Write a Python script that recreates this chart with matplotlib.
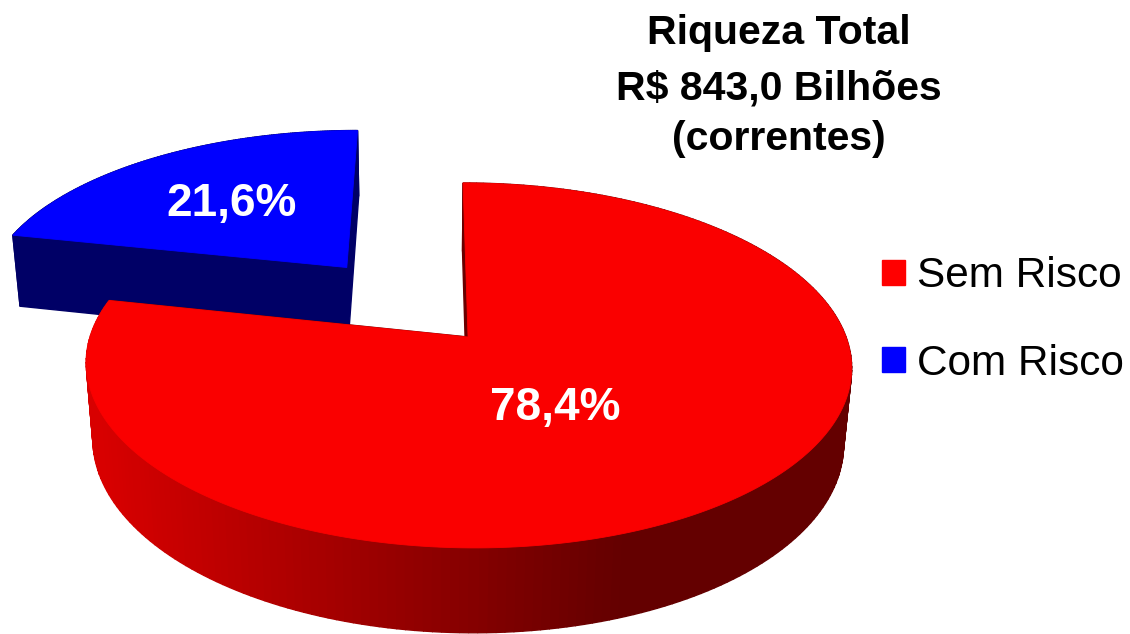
import numpy as np
import matplotlib
matplotlib.use("Agg")
import matplotlib.pyplot as plt
from matplotlib.patches import Polygon, Patch

plt.rcParams['font.family'] = ['Liberation Sans', 'DejaVu Sans']

# ---------------- data ----------------
categories = ["Sem Risco", "Com Risco"]
shares = [78.4, 21.6]
share_labels = ["78,4%", "21,6%"]
title_lines = ["Riqueza Total", "R$ 843,0 Bilhões", "(correntes)"]
explode = [0.0, 0.534]

# ---------------- style ----------------
top_colors = ["#fa0000", "#0000ff"]
legend_colors = ["#ff0000", "#0000ff"]
blue_side = "#000066"
red_face = "#6a0000"

# camera / projection of the 3-D pie (unit radius disc)
ALPHA = np.radians(28.1)
DIST = 5.66
K = 2139.5
CX, CY = 431.0, 337.0
XCAM = -0.098
THICK = 0.232

W, H = 1130, 634


def project(X, Z, Yh):
    X = np.asarray(X, float)
    Z = np.asarray(Z, float)
    Yh = np.asarray(Yh, float)
    xv = X - XCAM
    yv = Yh * np.cos(ALPHA) + Z * np.sin(ALPHA)
    zv = DIST + Z * np.cos(ALPHA) - Yh * np.sin(ALPHA)
    return CX + K * xv / zv, CY - K * yv / zv, zv


def red_wall_color(x):
    r = np.clip(216 - 0.223 * (x - 100), 100, 216) / 255.0
    return (r, 0, 0)


fig = plt.figure(figsize=(W / 100, H / 100), dpi=100)
ax = fig.add_axes([0, 0, 1, 1])
ax.set_xlim(0, W)
ax.set_ylim(H, 0)
ax.axis('off')

total = float(sum(shares))
starts = []
a = 90.0
for s in shares:
    sweep = 360.0 * s / total
    starts.append((a, a - sweep))
    a -= sweep

# draw back slice (blue) first, then the front slice (red)
order = [1, 0]
for i in order:
    p0, p1 = starts[i]
    mid = np.radians((p0 + p1) / 2)
    ox, oz = explode[i] * np.cos(mid), explode[i] * np.sin(mid)
    phis = np.radians(np.linspace(p0, p1, 240))
    Xs = ox + np.cos(phis)
    Zs = oz + np.sin(phis)

    # side faces: outer wall quads + radial faces, sorted far to near
    faces = []
    for k in range(len(phis) - 1):
        xa, ya, za = project(Xs[k], Zs[k], 0)
        xb, yb, zb = project(Xs[k + 1], Zs[k + 1], 0)
        xc, yc, _ = project(Xs[k + 1], Zs[k + 1], -THICK)
        xd, yd, _ = project(Xs[k], Zs[k], -THICK)
        col = red_wall_color((xa + xb) / 2) if i == 0 else blue_side
        faces.append(((za + zb) / 2, [(xa, ya), (xb, yb), (xc, yc), (xd, yd)], col))
    for ph in (phis[0], phis[-1]):
        c0 = project(ox, oz, 0)
        c1 = project(ox + np.cos(ph), oz + np.sin(ph), 0)
        c2 = project(ox + np.cos(ph), oz + np.sin(ph), -THICK)
        c3 = project(ox, oz, -THICK)
        col = red_face if i == 0 else blue_side
        faces.append(((c0[2] + c1[2]) / 2,
                      [(c0[0], c0[1]), (c1[0], c1[1]), (c2[0], c2[1]), (c3[0], c3[1])], col))
    faces.sort(key=lambda f: -f[0])
    for _, pts, col in faces:
        ax.add_patch(Polygon(pts, closed=True, facecolor=col, edgecolor=col,
                             linewidth=1.0, antialiased=True))

    # top surface
    cx0, cy0, _ = project(ox, oz, 0)
    tx, ty, _ = project(Xs, Zs, np.zeros_like(Xs))
    pts = [(cx0, cy0)] + list(zip(tx, ty))
    ax.add_patch(Polygon(pts, closed=True, facecolor=top_colors[i],
                         edgecolor=top_colors[i], linewidth=0.6))

# percentage labels
label_pos = [(555, 408), (232, 204)]
for lab, (lx, ly) in zip(share_labels, label_pos):
    ax.text(lx, ly, lab, color='white', fontsize=33, fontweight='bold',
            ha='center', va='center')

# title
title_baselines = [44, 99, 150]
for line, yb in zip(title_lines, title_baselines):
    ax.text(779, yb, line, fontsize=29.5, fontweight='bold', ha='center',
            va='baseline', color='black')

# legend
handles = [Patch(facecolor=c, edgecolor=c) for c in legend_colors]
ax.legend(handles, categories, loc='center left',
          bbox_to_anchor=(882 / W, 1 - 320 / H), frameon=False,
          fontsize=30.5, handlelength=0.55, handleheight=0.55,
          handletextpad=0.28, labelspacing=1.12, borderpad=0,
          borderaxespad=0)

fig.savefig("out.png", dpi=100, facecolor='white')
